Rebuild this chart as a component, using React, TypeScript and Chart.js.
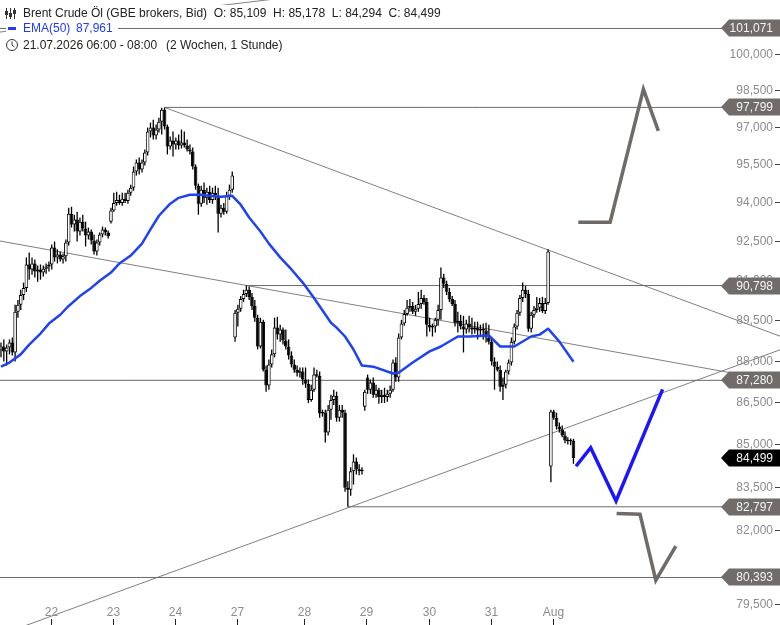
import { useEffect, useRef } from "react";
import Chart from "chart.js/auto";

// hourly candles, one slot each; the 27th has 24 slots, the other days 22
const dayLabels = ["22", "23", "24", "27", "28", "29", "30", "31", "Aug"];
const dayStarts = [17, 39, 61, 83, 107, 129, 151, 173, 195];

const opens = [
  88.41, 88.52, 88.34, 88.48, 88.67, 88.3, 89.81, 90.07, 90.44, 90.71,
  91.6, 91.41, 91.64, 91.33, 91.41, 91.29, 91.44, 91.52, 91.6, 92.25,
  91.87, 91.98, 91.79, 91.91, 92.44, 93.56, 93.14, 93.33, 92.87, 93.25,
  92.98, 92.71, 92.87, 92.52, 92.1, 92.44, 92.75, 92.95, 92.83, 93.25,
  93.68, 93.98, 94.1, 93.98, 94.14, 94.06, 94.38, 94.58, 95.22, 95.58,
  95.3, 95.58, 95.98, 96.82, 96.98, 96.66, 96.9, 97.22, 97.7, 97.02,
  96.22, 96.46, 96.3, 96.46, 96.26, 96.38, 96.26, 96.1, 96.02, 95.42,
  94.66, 93.95, 94.5, 94.18, 94.42, 94.1, 94.38, 94.26, 93.56, 93.79,
  93.64, 94.26, 94.5, 88.85, 89.77, 89.92, 90.29, 90.48, 90.64, 90.37,
  90.03, 89.59, 88.52, 89.44, 87.67, 87.09, 87.86, 88.23, 89.22, 88.96,
  89.15, 88.74, 88.52, 88.19, 87.86, 87.67, 87.56, 87.6, 87.31, 87.16,
  86.57, 86.94, 87.49, 87.45, 86.08, 86.11, 85.4, 86.22, 86.57, 86.72,
  85.93, 86.22, 86.11, 83.46, 83.39, 84.03, 84.38, 84.1, 84.03, 86.32,
  87.38, 86.94, 87.2, 86.76, 86.94, 86.68, 86.76, 86.68, 86.79, 86.94,
  87.93, 87.38, 88.85, 89.37, 89.73, 89.96, 90.03, 89.81, 89.92, 90.1,
  90.33, 90.18, 89.33, 89.22, 89.26, 89.51, 89.88, 91.1, 90.87, 90.56,
  90.29, 90.1, 89.4, 89.48, 89.26, 89.15, 89.37, 89.22, 89.15, 89.22,
  89.11, 89.18, 89.11, 88.85, 88.7, 87.97, 87.78, 87.67, 87.05, 87.12,
  87.6, 87.93, 88.7, 89.26, 89.77, 90.33, 90.64, 90.48, 89.18, 89.7,
  89.88, 89.96, 90.14, 89.84, 90.14, 84.2, 86.15, 85.93, 85.62, 85.51,
  85.3, 85.12, 85.09, 85.109,
];
const highs = [
  88.67, 88.78, 88.59, 88.78, 88.85, 90.07, 90.25, 90.64, 90.91, 91.87,
  92.06, 91.87, 91.79, 91.56, 91.6, 91.56, 91.64, 91.71, 92.37, 92.48,
  92.18, 92.1, 92.02, 92.56, 93.79, 93.83, 93.52, 93.64, 93.41, 93.52,
  93.25, 93.02, 92.95, 92.75, 92.56, 92.83, 93.06, 93.02, 92.91, 93.79,
  94.38, 94.42, 94.3, 94.38, 94.38, 94.5, 94.7, 95.42, 95.7, 95.78,
  95.7, 96.1, 96.98, 97.18, 97.3, 97.1, 97.38, 97.78, 97.799, 97.1,
  96.62, 96.82, 96.58, 96.7, 96.9, 96.82, 96.5, 96.3, 96.18, 95.5,
  94.74, 94.66, 94.78, 94.58, 94.66, 94.58, 94.66, 94.58, 93.91, 93.98,
  94.42, 94.7, 95.22, 89.88, 90.07, 90.4, 90.64, 90.798, 90.76, 90.52,
  90.25, 89.7, 89.59, 89.51, 87.82, 88.04, 88.41, 89.59, 89.62, 89.33,
  89.22, 89.15, 88.78, 88.34, 88.04, 87.82, 87.75, 87.75, 87.75, 87.31,
  87.12, 87.75, 87.67, 87.6, 86.22, 86.22, 86.39, 86.76, 86.94, 86.87,
  86.39, 86.39, 86.22, 83.68, 84.17, 84.63, 84.52, 84.28, 84.17, 86.94,
  87.49, 87.31, 87.38, 87.12, 87.01, 86.94, 87.01, 86.94, 87.09, 88.04,
  88.12, 89.0, 89.51, 89.88, 90.25, 90.29, 90.18, 90.07, 90.56, 90.64,
  90.44, 90.33, 89.59, 89.37, 89.59, 90.07, 91.48, 91.25, 90.98, 90.71,
  90.4, 90.25, 89.81, 89.7, 89.66, 89.51, 89.66, 89.59, 89.44, 89.44,
  89.33, 89.37, 89.4, 89.33, 88.85, 88.12, 87.97, 87.82, 87.38, 87.67,
  88.04, 88.85, 89.37, 89.88, 90.44, 90.91, 90.79, 90.64, 89.81, 90.03,
  90.37, 90.33, 90.37, 90.33, 92.18, 86.22, 86.22, 86.11, 85.76, 85.65,
  85.44, 85.23, 85.19, 85.178,
];
const lows = [
  88.12, 87.97, 87.82, 88.23, 88.19, 87.97, 89.59, 89.88, 90.25, 90.56,
  91.02, 91.21, 91.1, 90.94, 91.02, 91.14, 91.25, 91.33, 91.41, 91.71,
  91.64, 91.71, 91.64, 91.71, 92.33, 93.02, 92.87, 92.48, 92.71, 92.87,
  92.29, 92.56, 92.37, 91.98, 91.94, 92.33, 92.64, 92.71, 92.6, 93.18,
  93.64, 93.87, 93.91, 93.87, 93.98, 93.95, 94.26, 94.46, 95.06, 95.1,
  95.18, 95.46, 95.86, 96.58, 96.5, 96.5, 96.78, 96.7, 96.9, 95.9,
  96.1, 95.82, 96.1, 96.1, 96.14, 96.18, 96.02, 95.9, 95.3, 94.5,
  93.52, 93.83, 93.98, 93.91, 93.98, 93.95, 94.1, 92.83, 93.41, 93.52,
  93.56, 94.1, 94.38, 88.7, 89.26, 89.81, 90.18, 90.37, 90.25, 89.88,
  89.44, 88.41, 88.45, 87.6, 86.87, 86.94, 87.75, 88.12, 88.78, 88.7,
  88.59, 88.41, 88.04, 87.75, 87.56, 87.42, 87.38, 87.12, 87.01, 86.46,
  86.5, 86.87, 87.38, 85.93, 85.97, 85.05, 85.3, 85.86, 86.39, 85.79,
  85.79, 85.93, 83.32, 82.797, 83.18, 83.57, 83.92, 83.89, 83.92, 86.18,
  86.79, 86.79, 86.65, 86.65, 86.43, 86.46, 86.46, 86.5, 86.65, 86.87,
  87.23, 87.23, 88.78, 89.29, 89.66, 89.81, 89.73, 89.66, 89.81, 89.92,
  90.07, 88.89, 89.07, 88.89, 89.04, 89.29, 89.51, 90.71, 90.44, 90.18,
  90.03, 89.26, 89.04, 89.15, 88.3, 89.0, 89.04, 88.96, 89.0, 88.78,
  88.93, 88.78, 88.67, 88.59, 87.82, 86.94, 87.6, 86.87, 86.57, 86.98,
  87.49, 87.82, 88.59, 89.15, 89.66, 90.18, 90.33, 89.07, 89.04, 89.59,
  89.77, 89.81, 89.77, 89.73, 90.07, 83.65, 85.86, 85.51, 85.4, 85.23,
  85.02, 84.98, 84.95, 84.294,
];
const closes = [
  88.52, 88.34, 88.48, 88.67, 88.3, 89.81, 90.07, 90.44, 90.71, 91.6,
  91.41, 91.64, 91.33, 91.41, 91.29, 91.44, 91.52, 91.6, 92.25, 91.87,
  91.98, 91.79, 91.91, 92.44, 93.56, 93.14, 93.33, 92.87, 93.25, 92.98,
  92.71, 92.87, 92.52, 92.1, 92.44, 92.75, 92.95, 92.83, 92.68, 93.68,
  93.98, 94.1, 93.98, 94.14, 94.06, 94.38, 94.58, 95.22, 95.58, 95.3,
  95.58, 95.98, 96.82, 96.98, 96.66, 96.9, 97.22, 97.7, 97.02, 96.22,
  96.46, 96.3, 96.46, 96.26, 96.38, 96.26, 96.1, 96.02, 95.42, 94.66,
  93.95, 94.5, 94.18, 94.42, 94.1, 94.38, 94.26, 93.56, 93.79, 93.64,
  94.26, 94.5, 95.06, 89.77, 89.92, 90.29, 90.48, 90.64, 90.37, 90.03,
  89.59, 88.52, 89.44, 87.67, 87.09, 87.86, 88.23, 89.22, 88.96, 89.15,
  88.74, 88.52, 88.19, 87.86, 87.67, 87.56, 87.6, 87.31, 87.16, 86.57,
  86.94, 87.49, 87.45, 86.08, 86.11, 85.4, 86.22, 86.57, 86.72, 85.93,
  86.22, 86.11, 83.46, 83.39, 84.03, 84.38, 84.1, 84.03, 84.06, 86.87,
  86.94, 87.2, 86.76, 86.94, 86.68, 86.76, 86.68, 86.79, 86.94, 87.93,
  87.38, 88.85, 89.37, 89.73, 89.96, 90.03, 89.81, 89.92, 90.1, 90.33,
  90.18, 89.33, 89.22, 89.26, 89.51, 89.88, 91.1, 90.87, 90.56, 90.29,
  90.1, 89.4, 89.48, 89.26, 89.15, 89.37, 89.22, 89.15, 89.22, 89.11,
  89.18, 89.11, 88.85, 88.7, 87.97, 87.78, 87.67, 87.05, 87.12, 87.6,
  87.93, 88.7, 89.26, 89.77, 90.33, 90.64, 90.48, 89.18, 89.7, 89.88,
  89.96, 90.14, 89.84, 90.14, 92.1, 86.15, 85.93, 85.62, 85.51, 85.3,
  85.12, 85.09, 85.11, 84.499,
];

// EMA(50) at a subset of candles
const emaIndex = [
  0, 3, 7, 10, 14, 17, 21, 24, 28, 32, 35, 39, 42, 46, 50, 53, 56, 60, 63, 67,
  71, 74, 78, 82, 85, 88, 92, 95, 99, 103, 107, 111, 117, 119, 122, 125, 128,
  132, 139, 141, 146, 152, 156, 162, 166, 173, 177, 182, 188, 191, 194, 198, 203,
];
const emaValues = [
  87.78, 87.93, 88.23, 88.59, 89.0, 89.37, 89.7, 90.03, 90.4, 90.71, 90.98,
  91.29, 91.64, 91.94, 92.4, 92.95, 93.48, 93.95, 94.18, 94.3, 94.3, 94.26,
  94.22, 94.26, 93.91, 93.41, 92.87, 92.4, 91.87, 91.41, 90.91, 90.33, 89.4,
  89.22, 88.89, 88.41, 87.82, 87.78, 87.53, 87.56, 87.93, 88.34, 88.52, 88.89,
  88.89, 88.93, 88.52, 88.52, 88.89, 88.96, 89.18, 88.7, 87.961,
];

// horizontal levels and where they start
const levelValues = [101.071, 97.799, 90.798, 87.28, 82.797, 80.393];
const levelStart = [-1, 58, 87, -1, 123, -1];

// trend lines: start and end points (slot, price)
const trendX1 = [58, -0.36, -0.36, -0.36];
const trendY1 = [97.799, 92.5, 78.49, 100.92];
const trendX2 = [276.3, 276.3, 276.3, 106];
const trendY2 = [88.9, 87.23, 88.4, 102.45];

// scenario sketches on the right
const upPathX = [204.7, 216, 227.8, 233.1];
const upPathY = [93.23, 93.23, 98.54, 96.85];
const bluePathX = [203.9, 209.1, 218.1, 234.6];
const bluePathY = [84.21, 84.86, 83.0, 86.95];
const downPathX = [218.3, 226.6, 232.2, 239.3];
const downPathY = [82.57, 82.54, 80.3, 81.45];

const yTicks = [100, 98.5, 97, 95.5, 94, 92.5, 91, 89.5, 88, 86.5, 85, 83.5, 82, 79.5];

const X_MIN = -0.3546;
const X_MAX = 276.24;
const Y_MIN = 78.816;
const Y_MAX = 102.278;
const FONT = "12px 'Liberation Sans', Arial, sans-serif";
const GREY = "#716c69";

const fmt = (v: number) => v.toFixed(3).replace(".", ",");

const overlay = {
  id: "overlay",
  afterDatasetsDraw(chart: any) {
    const { ctx } = chart;
    const xs = chart.scales.x;
    const ys = chart.scales.y;
    const last = closes.length - 1;
    ctx.save();
    ctx.font = FONT;
    ctx.lineWidth = 1;

    // price axis
    ctx.textAlign = "right";
    ctx.textBaseline = "middle";
    yTicks.forEach((v) => {
      const y = Math.round(ys.getPixelForValue(v)) + 0.5;
      ctx.fillStyle = "#8c8c8c";
      ctx.fillText(fmt(v), 773, y);
      ctx.strokeStyle = "#444";
      ctx.beginPath();
      ctx.moveTo(775, y);
      ctx.lineTo(780, y);
      ctx.stroke();
    });

    // time axis
    ctx.textAlign = "center";
    dayStarts.forEach((d, k) => {
      const x = Math.round(xs.getPixelForValue(d + 0.6)) + 0.5;
      ctx.fillStyle = "#8c8c8c";
      ctx.fillText(dayLabels[k], x, 613);
      ctx.strokeStyle = "#222";
      ctx.beginPath();
      ctx.moveTo(x, 619);
      ctx.lineTo(x, 625);
      ctx.stroke();
    });

    // price tags
    const tags = [...levelValues, closes[last]];
    ctx.textAlign = "right";
    tags.forEach((v, k) => {
      const y = Math.round(ys.getPixelForValue(v));
      ctx.fillStyle = k === tags.length - 1 ? "#000" : GREY;
      ctx.beginPath();
      ctx.moveTo(721, y);
      ctx.lineTo(729, y - 8.5);
      ctx.lineTo(780, y - 8.5);
      ctx.lineTo(780, y + 8.5);
      ctx.lineTo(729, y + 8.5);
      ctx.closePath();
      ctx.fill();
      ctx.fillStyle = "#f4f4f4";
      ctx.fillText(fmt(v), 773, y + 0.5);
    });

    // legend block
    ctx.textAlign = "left";
    const header =
      "Brent Crude Öl (GBE brokers, Bid)  O: " + fmt(opens[last]) +
      "  H: " + fmt(highs[last]) + "  L: " + fmt(lows[last]) +
      "  C: " + fmt(closes[last]);
    const dateText = "21.07.2026 06:00 - 08:00";
    const spanText = "(2 Wochen, 1 Stunde)";
    ctx.fillStyle = "#fff";
    ctx.fillRect(3, 5, 24 + ctx.measureText(header).width, 16);
    ctx.fillRect(6, 21, 112, 14);
    ctx.fillRect(3, 37, 170 + ctx.measureText(spanText).width, 16);

    // candle glyph
    ctx.strokeStyle = "#333";
    ctx.fillStyle = "#333";
    [[6.5, 11], [10.5, 13], [14.5, 10]].forEach(([x, b]) => {
      ctx.beginPath();
      ctx.moveTo(x, 8);
      ctx.lineTo(x, 19);
      ctx.stroke();
      ctx.fillRect(x - 1.5, b, 3, 4);
    });
    ctx.fillStyle = "#222";
    ctx.fillText(header, 23, 13.5);

    ctx.fillStyle = "#1f3bff";
    ctx.fillRect(8, 27, 8, 3);
    ctx.fillText("EMA(50)", 23, 28.5);
    ctx.fillText(fmt(emaValues[emaValues.length - 1]), 76, 28.5);

    // clock glyph
    ctx.strokeStyle = "#333";
    ctx.beginPath();
    ctx.arc(12, 45, 5.5, 0, Math.PI * 2);
    ctx.moveTo(12, 45);
    ctx.lineTo(12, 41.5);
    ctx.moveTo(12, 45);
    ctx.lineTo(14.5, 47);
    ctx.stroke();
    ctx.fillStyle = "#222";
    ctx.fillText(dateText, 23, 45.5);
    ctx.fillText(spanText, 166, 45.5);
    ctx.restore();
  },
};

const lineSet = (xsArr: number[], ysArr: number[], color: string, width: number, order: number) => ({
  type: "line" as const,
  data: xsArr.map((x, k) => ({ x, y: ysArr[k] })),
  borderColor: color,
  borderWidth: width,
  pointRadius: 0,
  fill: false,
  tension: 0,
  order,
});

export default function App() {
  const canvasRef = useRef<HTMLCanvasElement | null>(null);

  useEffect(() => {
    document.body.style.margin = "0";
    if (!canvasRef.current) return;
    const ctx = canvasRef.current.getContext("2d");
    if (!ctx) return;

    const datasets: any[] = [
      {
        ...lineSet(emaIndex, emaValues, "#1f42f2", 2.5, 0),
        borderJoinStyle: "round",
      },
      { ...lineSet(upPathX, upPathY, "#6f6b68", 3.5, 1) },
      { ...lineSet(bluePathX, bluePathY, "#1a14ff", 3.5, 1) },
      { ...lineSet(downPathX, downPathY, "#6f6b68", 3.5, 1) },
      {
        type: "bar",
        data: opens.map((o, i) => ({ x: i, y: [o, closes[i]] })),
        backgroundColor: opens.map((o, i) => (closes[i] >= o ? "#fff" : "#000")),
        borderColor: "#000",
        borderWidth: 1,
        borderSkipped: false,
        barThickness: 3.6,
        minBarLength: 1.5,
        grouped: false,
        inflateAmount: 0,
        order: 2,
      },
      {
        type: "bar",
        data: lows.map((l, i) => ({ x: i, y: [l, highs[i]] })),
        backgroundColor: "#000",
        borderWidth: 0,
        barThickness: 1.3,
        grouped: false,
        inflateAmount: 0,
        order: 3,
      },
    ];
    levelValues.forEach((v, k) => {
      datasets.push(lineSet([levelStart[k], 280], [v, v], "#6a6a6a", 1, 4));
    });
    trendX1.forEach((x, k) => {
      datasets.push(lineSet([x, trendX2[k]], [trendY1[k], trendY2[k]], "#808080", 1, 5));
    });

    const chart = new Chart(ctx, {
      type: "bar",
      data: { datasets },
      options: {
        animation: false,
        responsive: false,
        events: [],
        layout: { padding: 0 },
        plugins: { legend: { display: false }, tooltip: { enabled: false } },
        scales: {
          x: { type: "linear", min: X_MIN, max: X_MAX, display: false, offset: false },
          y: { type: "logarithmic", min: Y_MIN, max: Y_MAX, display: false },
        },
      },
      plugins: [overlay],
    } as any);

    return () => {
      chart.destroy();
    };
  }, []);

  return (
    <div style={{ width: 780, height: 625 }}>
      <canvas ref={canvasRef} width={780} height={625}></canvas>
    </div>
  );
}
